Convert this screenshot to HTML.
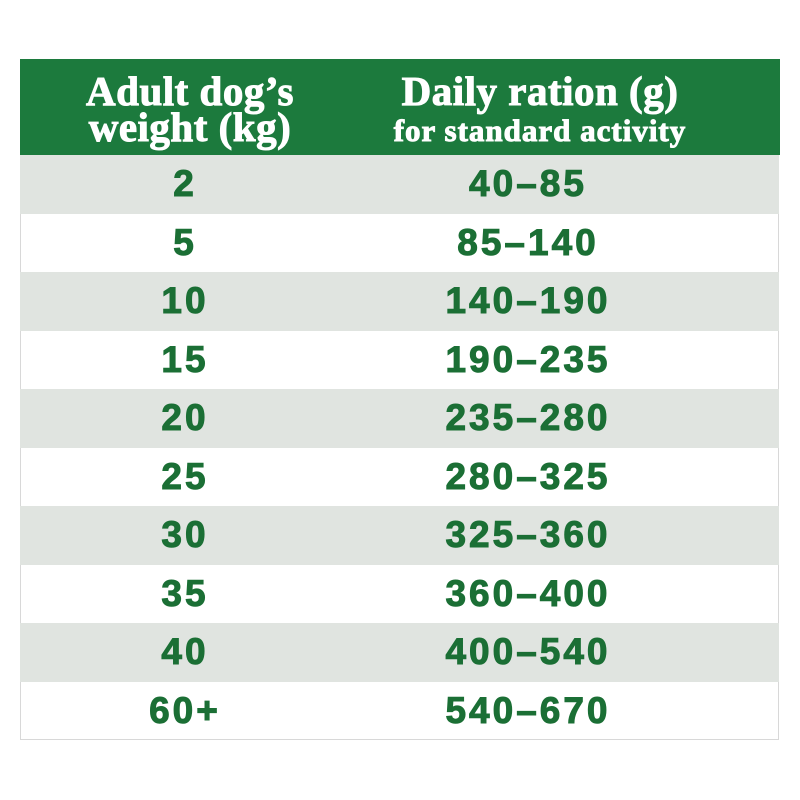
<!DOCTYPE html>
<html><head><style>
body{margin:0;width:800px;height:800px;background:#fff;position:relative;font-family:"Liberation Sans",sans-serif;overflow:hidden}
.t{position:absolute;left:20px;top:59px;width:759px;height:681px;border:1px solid #d8d8d8;border-top:none;box-sizing:border-box}
.h{position:absolute;left:20px;top:59px;width:760px;height:96px;background:#1c7a3d;color:#fff;font-family:"Liberation Serif",serif;font-weight:bold}
.h div{position:absolute;text-align:center;line-height:36px;white-space:nowrap;-webkit-text-stroke:1px #fff}
.r{position:absolute;left:20px;width:759px;height:58.5px;color:#1b6f35;font-weight:bold;font-size:37px;letter-spacing:3px;-webkit-text-stroke:1px #1b6f35}
.r.g{background:#e0e4e0}
.r span{position:absolute;top:0;line-height:58.5px;text-align:center}
.a{left:70px;width:190px}.b{left:318px;width:380px}
</style></head><body>
<div class="t"></div>
<div class="h">
<div style="left:40px;width:260px;top:14px;font-size:41px;letter-spacing:0.5px">Adult dog’s<br>weight (kg)</div>
<div style="left:310px;width:420px;top:14px;font-size:41px;letter-spacing:0.5px">Daily ration (g)<br><span style="font-size:31px;letter-spacing:1px">for standard activity</span></div>
</div>
<div class="r g" style="top:155px"><span class="a">2</span><span class="b">40–85</span></div>
<div class="r" style="top:213.5px"><span class="a">5</span><span class="b">85–140</span></div>
<div class="r g" style="top:272px"><span class="a">10</span><span class="b">140–190</span></div>
<div class="r" style="top:330.5px"><span class="a">15</span><span class="b">190–235</span></div>
<div class="r g" style="top:389px"><span class="a">20</span><span class="b">235–280</span></div>
<div class="r" style="top:447.5px"><span class="a">25</span><span class="b">280–325</span></div>
<div class="r g" style="top:506px"><span class="a">30</span><span class="b">325–360</span></div>
<div class="r" style="top:564.5px"><span class="a">35</span><span class="b">360–400</span></div>
<div class="r g" style="top:623px"><span class="a">40</span><span class="b">400–540</span></div>
<div class="r" style="top:681.5px"><span class="a">60+</span><span class="b">540–670</span></div>
</body></html>
